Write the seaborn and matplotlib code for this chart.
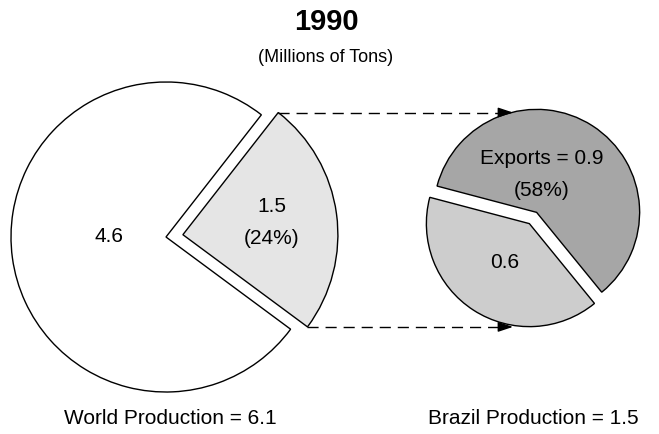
import numpy as np
import seaborn as sns
import matplotlib.pyplot as plt

# data (millions of tons, 1990)
world_labels = ['Brazil', 'Rest of world']
world_values = [1.5, 4.6]
world_pct = ['(24%)']
brazil_labels = ['Exports', 'Domestic']
brazil_values = [0.9, 0.6]
brazil_pct = ['(58%)']

world_colors = ['#e5e5e5', '#ffffff']
brazil_colors = ['#a6a6a6', '#cdcdcd']

sns.set_theme(style='white')
plt.rcParams['font.family'] = ['Liberation Sans', 'DejaVu Sans']
plt.rcParams['text.color'] = 'black'

W, H = 659, 434
fig = plt.figure(figsize=(W / 100, H / 100), dpi=100)
ax = fig.add_axes([0, 0, 1, 1])

# pixel positions (y measured from the top in the reference)
left_c = (166, H - 237)
left_r = 155
right_c = (533, H - 218)
right_r = 103

wedge_kw = dict(edgecolor='black', linewidth=1.0)

# pie explode is in data units here, so scale by radius
wl, _ = ax.pie(world_values, colors=world_colors, startangle=-36.5,
               explode=[0.11 * left_r, 0], center=left_c, radius=left_r,
               wedgeprops=wedge_kw)
wr, _ = ax.pie(brazil_values, colors=brazil_colors, startangle=-50.8,
               explode=[0.065 * right_r, 0.065 * right_r], center=right_c,
               radius=right_r, wedgeprops=wedge_kw)

ax.set_xlim(0, W)
ax.set_ylim(0, H)
ax.set_aspect('equal')
ax.axis('off')

# dashed arrows from the Brazil slice corners to the right pie
g = wl[0]
cx, cy = g.center
end_x = right_c[0] - 20
for th in (g.theta2, g.theta1):
    x0 = cx + g.r * np.cos(np.radians(th))
    y0 = cy + g.r * np.sin(np.radians(th))
    ax.plot([x0, end_x - 8], [y0, y0], color='black', lw=1.0,
            dashes=(8, 5))
    ax.annotate('', xy=(end_x, y0), xytext=(end_x - 12, y0),
                arrowprops=dict(arrowstyle='-|>,head_length=0.9,head_width=0.3',
                                mutation_scale=10, color='black', lw=1.0,
                                shrinkA=0, shrinkB=0))

fs = 15
# labels inside the slices
ax.text(109, H - 236, f'{world_values[1]}', ha='center', va='center', fontsize=fs)
ax.text(272, H - 207, f'{world_values[0]}', ha='center', va='center', fontsize=fs)
ax.text(272, H - 239, world_pct[0], ha='center', va='center', fontsize=fs)
ax.text(542, H - 158, f'{brazil_labels[0]} = {brazil_values[0]}', ha='center',
        va='center', fontsize=fs)
ax.text(542, H - 190, brazil_pct[0], ha='center', va='center', fontsize=fs)
ax.text(505, H - 262, f'{brazil_values[1]}', ha='center', va='center', fontsize=fs)

# captions
ax.text(170, H - 418, f'World Production = {sum(world_values):.1f}',
        ha='center', va='center', fontsize=fs)
ax.text(533, H - 418, f'Brazil Production = {sum(brazil_values):.1f}',
        ha='center', va='center', fontsize=fs)

# title
ax.text(326, H - 22, '1990', ha='center', va='center', fontsize=21,
        fontweight='bold')
ax.text(326, H - 57, '(Millions of Tons)', ha='center', va='center', fontsize=13)

fig.savefig('out.png', dpi=100)
